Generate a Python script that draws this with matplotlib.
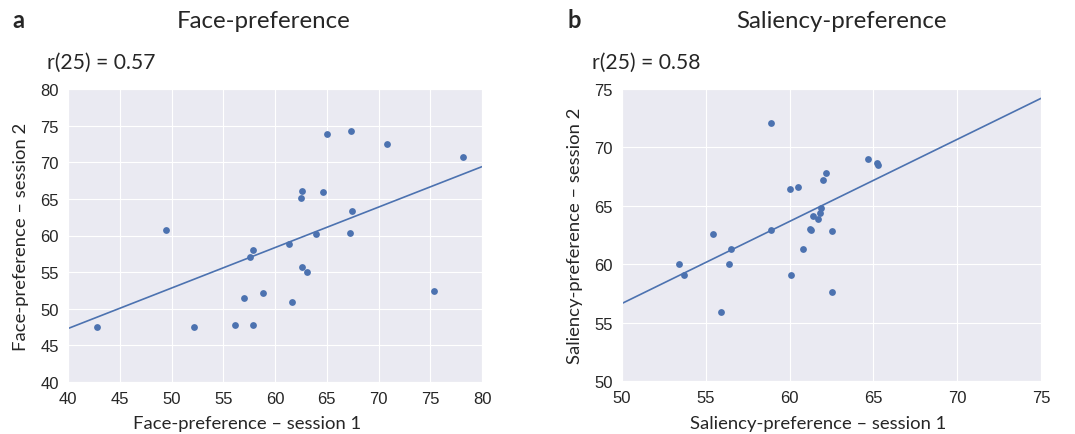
import matplotlib

matplotlib.use("Agg")
import matplotlib.pyplot as plt
import numpy as np
import seaborn as sns

# Face-preference, session 1 / session 2
face_s1 = [42.8, 49.5, 52.2, 56.1, 57.0, 57.6, 57.9, 57.9, 58.8, 61.4, 61.6, 62.5,
           62.6, 62.6, 63.1, 64.0, 64.6, 65.0, 67.2, 67.3, 67.4, 70.8, 75.4, 78.2]
face_s2 = [47.5, 60.7, 47.5, 47.8, 51.5, 57.0, 58.0, 47.8, 52.1, 58.9, 50.9, 65.1,
           66.1, 55.7, 55.0, 60.2, 66.0, 73.9, 60.3, 74.3, 63.3, 72.5, 52.4, 70.7]

# Saliency-preference, session 1 / session 2
sal_s1 = [53.4, 53.7, 55.4, 55.9, 56.5, 56.4, 58.9, 58.9, 60.0, 60.1, 60.5, 60.8,
          61.2, 61.3, 61.4, 61.7, 61.8, 61.9, 62.0, 62.2, 62.5, 62.5, 64.7, 65.2, 65.3]
sal_s2 = [60.0, 59.1, 62.6, 55.9, 61.3, 60.0, 72.1, 62.9, 66.4, 59.1, 66.6, 61.3,
          63.0, 62.9, 64.1, 63.9, 64.4, 64.8, 67.2, 67.8, 62.8, 57.6, 69.0, 68.7, 68.5]

# regression lines: (slope, intercept)
face_fit = (0.5525, 25.2)
sal_fit = (0.7024, 21.52)

face_r = "r(25) = 0.57"
sal_r = "r(25) = 0.58"

sns.set_style("darkgrid")
plt.rcParams["font.family"] = ["Liberation Sans", "DejaVu Sans"]

BLUE = "#4C72B0"
LABEL_FONT = ["Lato", "DejaVu Sans"]

fig = plt.figure(figsize=(10.75, 4.35), dpi=100)

panels = [
    dict(rect=[68 / 1075, 52 / 435, 414 / 1075, 293 / 435], x=face_s1, y=face_s2,
         fit=face_fit, xlim=(40, 80), ylim=(40, 80), r=face_r,
         title="Face-preference", letter="a", title_x=0.473, letter_x=-0.135,
         r_x=-0.051, xlab_x=0.432, ylab_x=-0.094, xlab_y=-0.112,
         xlabel="Face-preference \u2013 session 1",
         ylabel="Face-preference \u2013 session 2"),
    dict(rect=[622 / 1075, 53 / 435, 419 / 1075, 292 / 435], x=sal_s1, y=sal_s2,
         fit=sal_fit, xlim=(50, 75), ylim=(50, 75), r=sal_r,
         title="Saliency-preference", letter="b", title_x=0.525, letter_x=-0.131,
         r_x=-0.072, xlab_x=0.468, ylab_x=-0.093, xlab_y=-0.115,
         xlabel="Saliency-preference \u2013 session 1",
         ylabel="Saliency-preference \u2013 session 2"),
]

for p in panels:
    ax = fig.add_axes(p["rect"])
    ax.scatter(p["x"], p["y"], s=24, color=BLUE, linewidths=0, zorder=3)
    xs = np.array(p["xlim"])
    slope, icpt = p["fit"]
    ax.plot(xs, slope * xs + icpt, color=BLUE, lw=1.2, zorder=2)
    ax.set_xlim(p["xlim"])
    ax.set_ylim(p["ylim"])
    ax.set_xticks(np.arange(p["xlim"][0], p["xlim"][1] + 1, 5))
    ax.set_yticks(np.arange(p["ylim"][0], p["ylim"][1] + 1, 5))
    ax.tick_params(labelsize=12, pad=3, colors="#262626")

    ax.set_xlabel(p["xlabel"], fontsize=13.3, family=LABEL_FONT)
    ax.set_ylabel(p["ylabel"], fontsize=13.3, family=LABEL_FONT)
    ax.xaxis.set_label_coords(p["xlab_x"], p["xlab_y"])
    ax.yaxis.set_label_coords(p["ylab_x"], 0.5)

    ax.text(p["r_x"], 1.072, p["r"], transform=ax.transAxes, fontsize=15.2,
            family=LABEL_FONT, ha="left", va="baseline")
    ax.text(p["title_x"], 1.212, p["title"], transform=ax.transAxes,
            fontsize=17.3, family=LABEL_FONT, ha="center", va="baseline")
    ax.text(p["letter_x"], 1.212, p["letter"], transform=ax.transAxes,
            fontsize=17, family=LABEL_FONT, fontweight="bold", ha="left",
            va="baseline")

fig.savefig("out.png", dpi=100, facecolor="white")
